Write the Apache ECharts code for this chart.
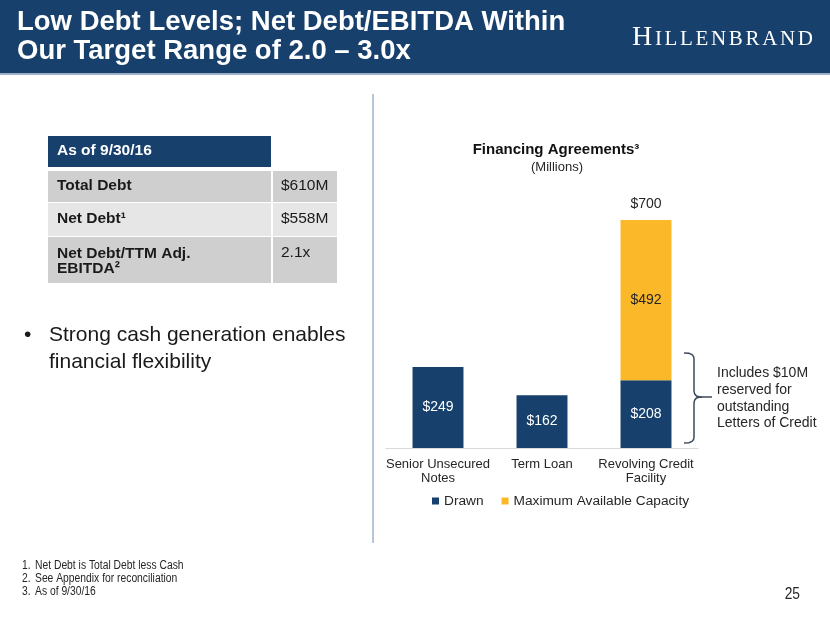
<!DOCTYPE html>
<html>
<head>
<meta charset="utf-8">
<script src="https://cdn.jsdelivr.net/npm/echarts@6/dist/echarts.min.js"></script>
<style>
html,body{margin:0;padding:0;background:#fff;}
#c{width:830px;height:623px;}
</style>
</head>
<body>
<div id="c"></div>
<script>
// ---- data ----
const categories = ['Senior Unsecured\nNotes', 'Term Loan', 'Revolving Credit\nFacility'];
const drawn = [249, 162, 208];
const available = [null, null, 492];
const totals = [null, null, 700];
const seriesNames = ['Drawn', 'Maximum Available Capacity'];

const titleLines = ['Low Debt Levels; Net Debt/EBITDA Within', 'Our Target Range of 2.0 \u2013 3.0x'];
const tableHeader = 'As of 9/30/16';
const tableLabels = ['Total Debt', 'Net Debt\u00B9', 'Net Debt/TTM Adj.\nEBITDA\u00B2'];
const tableValues = ['$610M', '$558M', '2.1x'];
const bulletText = 'Strong cash generation enables\nfinancial flexibility';
const chartTitle = 'Financing Agreements\u00B3';
const chartSubtitle = '(Millions)';
const noteText = 'Includes $10M\nreserved for\noutstanding\nLetters of Credit';
const footnotes = ['Net Debt is Total Debt less Cash', 'See Appendix for reconciliation', 'As of 9/30/16'];
const pageNumber = '25';
const logoText = 'HILLENBRAND';

// ---- styles ----
const SANS = "'Liberation Sans', Arial, Helvetica, sans-serif";
const SERIF = "'Liberation Serif', 'Times New Roman', serif";
const NAVY = '#17406D';
const GOLD = '#FBB829';
const TXT = '#262626';

const graphics = [];
// header bar
graphics.push({type:'rect', shape:{x:0,y:0,width:830,height:73}, style:{fill:NAVY}, silent:true});
graphics.push({type:'rect', shape:{x:0,y:73,width:830,height:2}, style:{fill:'#9DB0C7'}, silent:true});
graphics.push({type:'text', x:17, y:37.2, style:{text:titleLines.join('\n'), fill:'#fff', font:'bold 27.5px ' + SANS, lineHeight:29, verticalAlign:'middle', align:'left'}, silent:true});

// logo: letter by letter with spacing
(function(){
  const cv = document.createElement('canvas').getContext('2d');
  const sizes = logoText.split('').map((ch,i)=> i===0 ? 28 : 21);
  const widths = logoText.split('').map((ch,i)=>{ cv.font = sizes[i] + 'px ' + SERIF; return cv.measureText(ch).width; });
  const total = widths.reduce((a,b)=>a+b,0);
  const startX = 632, endX = 813;
  const gap = (endX - startX - total) / (logoText.length - 1);
  let x = startX;
  const baseline = 47;
  logoText.split('').forEach((ch,i)=>{
    graphics.push({type:'text', x:x, y:baseline - 0.3375*sizes[i], style:{text:ch, fill:'#fff', font:sizes[i]+'px '+SERIF, verticalAlign:'middle', align:'left'}, silent:true});
    x += widths[i] + gap;
  });
})();

// table
graphics.push({type:'rect', shape:{x:48,y:136,width:223,height:31}, style:{fill:NAVY}, silent:true});
graphics.push({type:'text', x:57, y:151, style:{text:tableHeader, fill:'#fff', font:'bold 15.5px '+SANS, verticalAlign:'middle'}, silent:true});
const rowTops = [171, 203, 237];
const rowHeights = [31, 33, 46];
const rowFills = ['#CFCFCF', '#E6E6E6', '#CFCFCF'];
tableLabels.forEach((lab, i)=>{
  graphics.push({type:'rect', shape:{x:48,y:rowTops[i],width:223,height:rowHeights[i]}, style:{fill:rowFills[i]}, silent:true});
  graphics.push({type:'rect', shape:{x:273,y:rowTops[i],width:64,height:rowHeights[i]}, style:{fill:rowFills[i]}, silent:true});
  const multi = lab.indexOf('\n') >= 0;
  const cy = multi ? rowTops[i] + 16 : rowTops[i] + rowHeights[i]/2 - 1;
  graphics.push({type:'text', x:57, y:multi ? rowTops[i]+8.5 : cy, style:{text:lab, fill:'#1a1a1a', font:'bold 15.5px '+SANS, lineHeight:15.5, verticalAlign: multi ? 'top' : 'middle'}, silent:true});
  graphics.push({type:'text', x:281, y:cy, style:{text:tableValues[i], fill:'#1a1a1a', font:'15.5px '+SANS, verticalAlign:'middle'}, silent:true});
});

// bullet
graphics.push({type:'text', x:24, y:335, style:{text:'\u2022', fill:'#1a1a1a', font:'21px '+SANS, verticalAlign:'middle'}, silent:true});
graphics.push({type:'text', x:49, y:322, style:{text:bulletText, fill:'#1a1a1a', font:'21px '+SANS, lineHeight:27, verticalAlign:'top'}, silent:true});

// divider
graphics.push({type:'line', shape:{x1:373,y1:94,x2:373,y2:543}, style:{stroke:'#B7C6D7', lineWidth:2}, silent:true});

// chart titles
graphics.push({type:'text', x:556, y:150, style:{text:chartTitle, fill:'#111', font:'bold 15px '+SANS, align:'center', verticalAlign:'middle'}, silent:true});
graphics.push({type:'text', x:557, y:167, style:{text:chartSubtitle, fill:TXT, font:'13px '+SANS, align:'center', verticalAlign:'middle'}, silent:true});

// brace
graphics.push({type:'polyline', shape:{points:[[684,353],[689,353.3],[692,354.5],[693.6,356.5],[694,359],[694,391],[694.6,393.8],[696.5,396],[699,396.8],[702,397],[712,397]]}, style:{stroke:'#3E4A5A', lineWidth:1.5, fill:null}, silent:true});
graphics.push({type:'polyline', shape:{points:[[702,397],[699,397.2],[696.5,398],[694.6,400.2],[694,403],[694,437],[693.6,439.5],[692,441.5],[689,442.7],[684,443]]}, style:{stroke:'#3E4A5A', lineWidth:1.5, fill:null}, silent:true});
graphics.push({type:'text', x:717, y:365, style:{text:noteText, fill:TXT, font:'14px '+SANS, lineHeight:16.7, verticalAlign:'top'}, silent:true});

// footnotes (condensed)
footnotes.forEach((f,i)=>{
  graphics.push({type:'text', x:22, y:566 + i*13, scaleX:0.86, style:{text:(i+1)+'.', fill:TXT, font:'12px '+SANS, verticalAlign:'middle'}, silent:true});
  graphics.push({type:'text', x:35, y:566 + i*13, scaleX:0.86, style:{text:f, fill:TXT, font:'12px '+SANS, verticalAlign:'middle'}, silent:true});
});
graphics.push({type:'text', x:800, y:595, scaleX:0.86, style:{text:pageNumber, fill:TXT, font:'16px '+SANS, align:'right', verticalAlign:'middle'}, silent:true});

const fmt = p => '$' + p.value;

const chart = echarts.init(document.getElementById('c'), null, {renderer:'canvas'});
chart.setOption({
  backgroundColor:'#fff',
  animation:false,
  textStyle:{fontFamily:SANS},
  grid:{left:386, top:220, width:312, height:228, containLabel:false},
  legend:{
    data:seriesNames, left:432, top:494, padding:0,
    itemWidth:7, itemHeight:7, itemGap:18, icon:'rect',
    textStyle:{fontSize:13.7, color:TXT, fontFamily:SANS}
  },
  xAxis:{
    type:'category', data:categories,
    axisLine:{lineStyle:{color:'#D9D9D9', width:1}},
    axisTick:{show:false},
    axisLabel:{color:TXT, fontSize:13, lineHeight:14, margin:9, fontFamily:SANS, interval:0}
  },
  yAxis:{type:'value', min:0, max:700, show:false, splitLine:{show:false}},
  series:[
    {name:seriesNames[0], type:'bar', stack:'a', data:drawn, barWidth:'49%', barGap:'-100%',
     itemStyle:{color:NAVY},
     label:{show:true, position:'inside', color:'#fff', fontSize:14, fontFamily:SANS, formatter:fmt}},
    {name:seriesNames[1], type:'bar', stack:'a', data:available, barWidth:'49%', barGap:'-100%',
     itemStyle:{color:GOLD},
     label:{show:true, position:'inside', color:TXT, fontSize:14, fontFamily:SANS, formatter:fmt}},
    {name:'Total', type:'bar', data:totals, barWidth:'49%', barGap:'-100%', silent:true, z:1,
     itemStyle:{color:'rgba(0,0,0,0)'},
     label:{show:true, position:'top', distance:9, color:TXT, fontSize:14, fontFamily:SANS, formatter:fmt}}
  ],
  graphic:graphics
});
</script>
</body>
</html>
